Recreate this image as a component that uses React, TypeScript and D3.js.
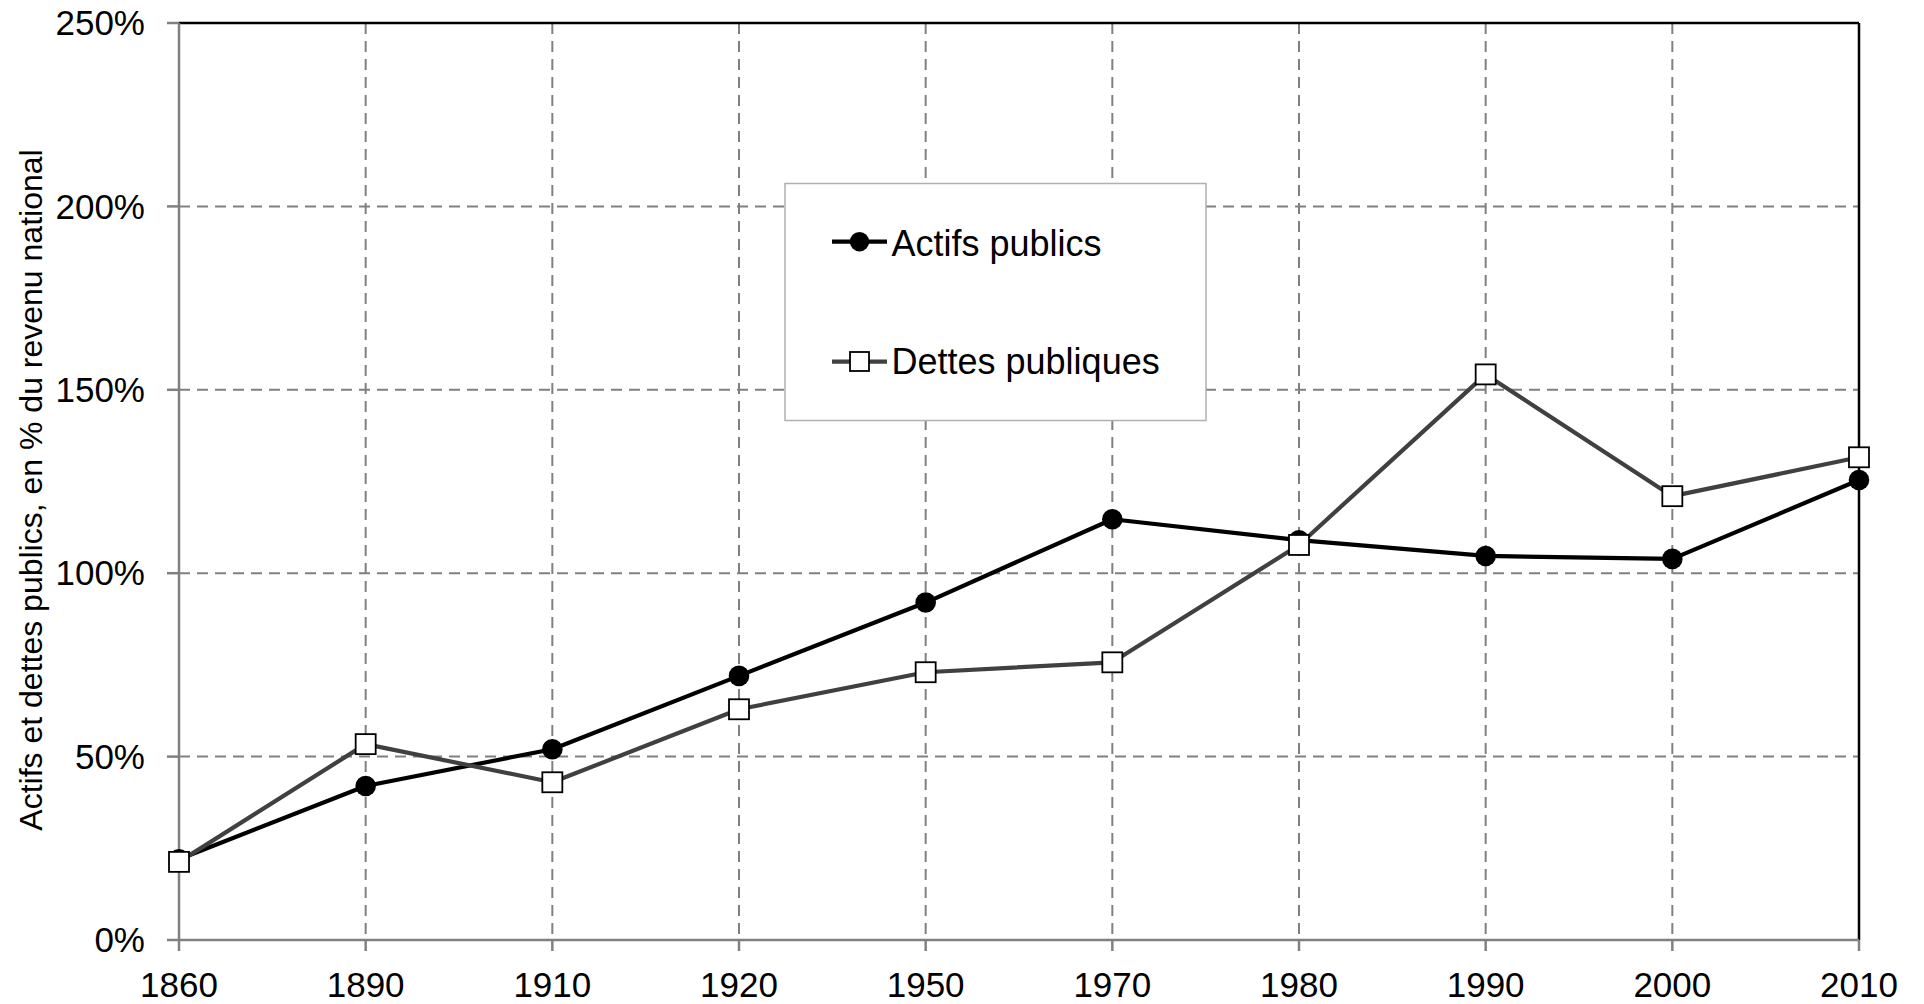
import React from "react";
import * as d3 from "d3";

const years = ["1860", "1890", "1910", "1920", "1950", "1970", "1980", "1990", "2000", "2010"];
const actifs = [0.22, 0.42, 0.52, 0.72, 0.92, 1.147, 1.09, 1.047, 1.039, 1.254];
const dettes = [0.213, 0.534, 0.43, 0.629, 0.73, 0.757, 1.077, 1.542, 1.21, 1.316];
const yTicks = [0, 0.5, 1, 1.5, 2, 2.5];
const seriesNames = ["Actifs publics", "Dettes publiques"];
const yTitle = "Actifs et dettes publics, en % du revenu national";

const W = 1924;
const H = 1004;
const left = 179;
const right = 1859;
const top = 23;
const bottom = 940;
const FONT = "'Liberation Sans', Arial, sans-serif";

export default function App() {
  const x = d3.scalePoint<string>().domain(years).range([left, right]);
  const y = d3.scaleLinear().domain([0, 2.5]).range([bottom, top]);
  const line = d3
    .line<number>()
    .x((_, i) => x(years[i]) as number)
    .y((d) => y(d));
  const fmt = d3.format(".0%");

  return (
    <svg
      width={W}
      height={H}
      style={{ position: "absolute", left: 0, top: 0, background: "#fff" }}
      fontFamily={FONT}
    >
      <rect x={0} y={0} width={W} height={H} fill="#fff" />
      {/* horizontal gridlines */}
      {yTicks
        .filter((t) => t > 0 && t < 2.5)
        .map((t) => (
          <line
            key={"hg" + t}
            x1={left}
            x2={right}
            y1={y(t)}
            y2={y(t)}
            stroke="#808080"
            strokeWidth={2}
            strokeDasharray="11,7"
          />
        ))}
      {/* vertical gridlines */}
      {years.slice(1, -1).map((yr) => (
        <line
          key={"vg" + yr}
          x1={x(yr)}
          x2={x(yr)}
          y1={top}
          y2={bottom}
          stroke="#808080"
          strokeWidth={2}
          strokeDasharray="11,7"
        />
      ))}
      {/* top and right border */}
      <line x1={left} x2={right} y1={top} y2={top} stroke="#000" strokeWidth={2.5} />
      <line x1={right} x2={right} y1={top} y2={bottom} stroke="#000" strokeWidth={2.5} />
      {/* axes */}
      <line x1={left} x2={left} y1={top} y2={bottom} stroke="#808080" strokeWidth={2.5} />
      <line x1={left} x2={right} y1={bottom} y2={bottom} stroke="#808080" strokeWidth={2.5} />
      {yTicks.map((t) => (
        <g key={"yt" + t}>
          <line x1={left - 12} x2={left} y1={y(t)} y2={y(t)} stroke="#808080" strokeWidth={2.5} />
          <text
            x={145}
            y={y(t)}
            dy="0.35em"
            textAnchor="end"
            fontSize={35}
            fill="#000"
          >
            {fmt(t)}
          </text>
        </g>
      ))}
      {years.map((yr) => (
        <g key={"xt" + yr}>
          <line x1={x(yr)} x2={x(yr)} y1={bottom} y2={bottom + 11} stroke="#808080" strokeWidth={2.5} />
          <text x={x(yr)} y={997} textAnchor="middle" fontSize={35} fill="#000">
            {yr}
          </text>
        </g>
      ))}
      <text
        transform={`translate(42,490) rotate(-90)`}
        textAnchor="middle"
        fontSize={32}
        fill="#000"
      >
        {yTitle}
      </text>

      {/* Actifs series */}
      <path d={line(actifs) || ""} fill="none" stroke="#000" strokeWidth={4.2} strokeLinejoin="round" />
      {actifs.map((v, i) => (
        <circle key={"a" + i} cx={x(years[i])} cy={y(v)} r={10.3} fill="#000" />
      ))}
      {/* Dettes series */}
      <path d={line(dettes) || ""} fill="none" stroke="#404040" strokeWidth={4.2} strokeLinejoin="round" />
      {dettes.map((v, i) => (
        <rect
          key={"d" + i}
          x={(x(years[i]) as number) - 10}
          y={y(v) - 10}
          width={20}
          height={20}
          fill="#fff"
          stroke="#000"
          strokeWidth={1.8}
        />
      ))}

      {/* legend */}
      <rect x={785} y={183.5} width={421} height={237} fill="#fff" stroke="#b0b0b0" strokeWidth={1.5} />
      <line x1={832} x2={887} y1={241.7} y2={241.7} stroke="#000" strokeWidth={4.2} />
      <circle cx={859.5} cy={241.7} r={9.7} fill="#000" />
      <text x={891.5} y={256} fontSize={36} fill="#000">
        {seriesNames[0]}
      </text>
      <line x1={832} x2={887} y1={361.7} y2={361.7} stroke="#404040" strokeWidth={4.2} />
      <rect x={850} y={352} width={19} height={19} fill="#fff" stroke="#000" strokeWidth={1.8} />
      <text x={891.5} y={374} fontSize={36} fill="#000">
        {seriesNames[1]}
      </text>
    </svg>
  );
}
